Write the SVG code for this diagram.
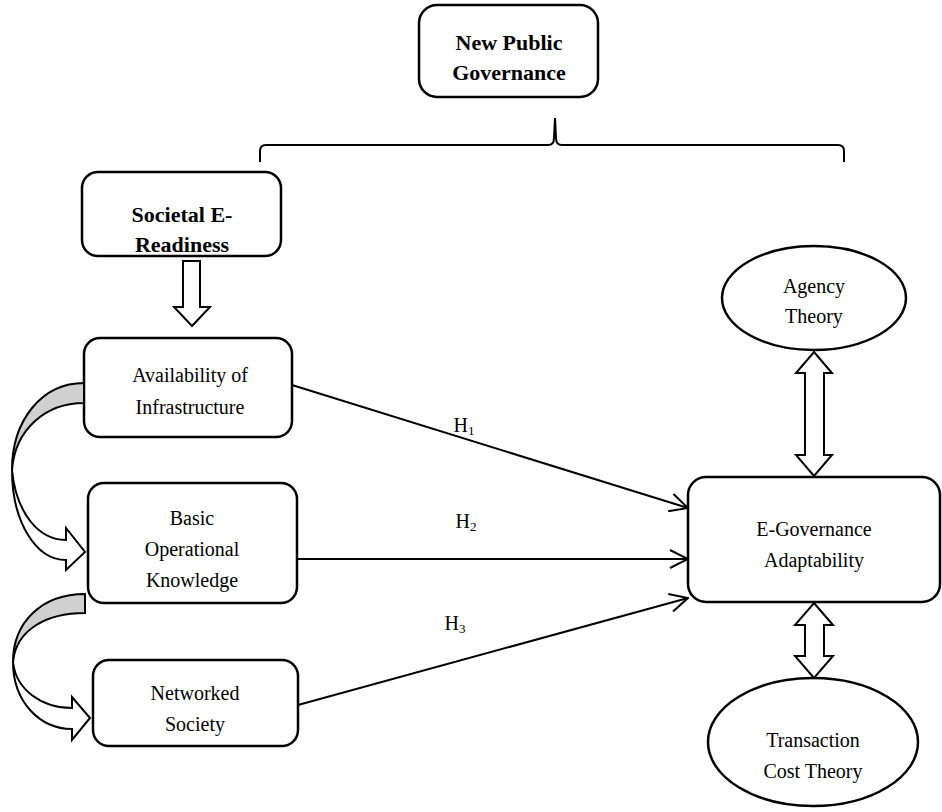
<svg xmlns="http://www.w3.org/2000/svg" width="942" height="812" viewBox="0 0 942 812">
<defs>
<style>
.box{fill:#fff;stroke:#000;stroke-width:2.5}
.tb{font-family:"Liberation Serif","Times New Roman",serif;font-weight:bold;font-size:22px;text-anchor:middle;fill:#000}
.tr{font-family:"Liberation Serif","Times New Roman",serif;font-size:20px;text-anchor:middle;fill:#000}
.ln{fill:none;stroke:#000;stroke-width:2}
.hol{fill:#fff;stroke:#000;stroke-width:2;stroke-linejoin:miter}
.gray{fill:#d0d0d0;stroke:#000;stroke-width:2}
</style>
<marker id="open" viewBox="0 0 20 20" refX="19" refY="10" markerWidth="20" markerHeight="20" markerUnits="userSpaceOnUse" orient="auto">
<path d="M1,1 L19,10 L1,19" fill="none" stroke="#000" stroke-width="2"/>
</marker>
</defs>
<rect width="942" height="812" fill="#fff"/>

<g id="npg">
<rect class="box" x="419" y="5" width="179" height="92" rx="18"/>
<text class="tb" x="509" y="50">New Public</text>
<text class="tb" x="509" y="80">Governance</text>
</g>

<g id="brace">
<path class="ln" stroke-width="3" d="M260,162 L260,151 Q260,145 266,145 L548,145 Q554,145 554,138 L555,118 L556,138 Q556,145 562,145 L838,145 Q844,145 844,151 L844,162"/>
</g>

<g id="societal">
<rect class="box" x="82" y="172" width="199" height="84" rx="16"/>
<text class="tb" x="182" y="222">Societal E-</text>
<text class="tb" x="182" y="252">Readiness</text>
</g>

<g id="downarrow">
<path class="hol" d="M183,261 L200,261 L200,307 L210,307 L192,326 L174,307 L183,307 Z"/>
</g>

<g id="avail">
<rect class="box" x="84" y="338" width="208" height="99" rx="16"/>
<text class="tr" x="190" y="382">Availability of</text>
<text class="tr" x="190" y="414">Infrastructure</text>
</g>

<g id="basic">
<rect class="box" x="88" y="483" width="209" height="120" rx="16"/>
<text class="tr" x="192" y="525">Basic</text>
<text class="tr" x="192" y="556">Operational</text>
<text class="tr" x="192" y="587">Knowledge</text>
</g>

<g id="networked">
<rect class="box" x="93" y="660" width="205" height="86" rx="16"/>
<text class="tr" x="195" y="700">Networked</text>
<text class="tr" x="195" y="731">Society</text>
</g>

<g id="egov">
<rect class="box" x="688" y="477" width="252" height="125" rx="18"/>
<text class="tr" x="814" y="536">E-Governance</text>
<text class="tr" x="814" y="567">Adaptability</text>
</g>

<g id="agency">
<ellipse class="box" cx="814" cy="298" rx="92" ry="52"/>
<text class="tr" x="814" y="293">Agency</text>
<text class="tr" x="814" y="323">Theory</text>
</g>

<g id="transaction">
<ellipse class="box" cx="813" cy="742" rx="105" ry="64"/>
<text class="tr" x="813" y="747">Transaction</text>
<text class="tr" x="813" y="778">Cost Theory</text>
</g>

<g id="connectors">
<line class="ln" x1="292" y1="385" x2="688" y2="508" marker-end="url(#open)"/>
<line class="ln" x1="297" y1="559" x2="688" y2="559" marker-end="url(#open)"/>
<line class="ln" x1="298" y1="705" x2="688" y2="598" marker-end="url(#open)"/>
<text class="tr" x="464" y="432">H<tspan font-size="13" dy="3">1</tspan></text>
<text class="tr" x="466" y="528">H<tspan font-size="13" dy="3">2</tspan></text>
<text class="tr" x="455" y="630">H<tspan font-size="13" dy="3">3</tspan></text>
<path class="hol" d="M814,352 L832,373 L824,373 L824,455 L832,455 L814,476 L796,455 L805,455 L805,373 L796,373 Z"/>
<path class="hol" d="M814,603 L833,625 L824,625 L824,656 L833,656 L814,678 L795,656 L805,656 L805,625 L795,625 Z"/>
<path class="gray" d="M84,383 C42,383 12,420 12,470 C15,430 45,403 84,403 Z"/>
<path class="hol" d="M12,470 C12,522 36,560 66,560 L66,570 L85,552 L66,528 L66,540 C38,540 16,512 12,470 Z"/>
<path class="gray" d="M85,594 C42,594 13,622 13,662 C16,630 46,613 85,613 Z"/>
<path class="hol" d="M13,662 C13,702 40,729 72,729 L72,740 L90,718 L72,697 L72,708 C42,708 16,690 13,662 Z"/>
</g>
</svg>
